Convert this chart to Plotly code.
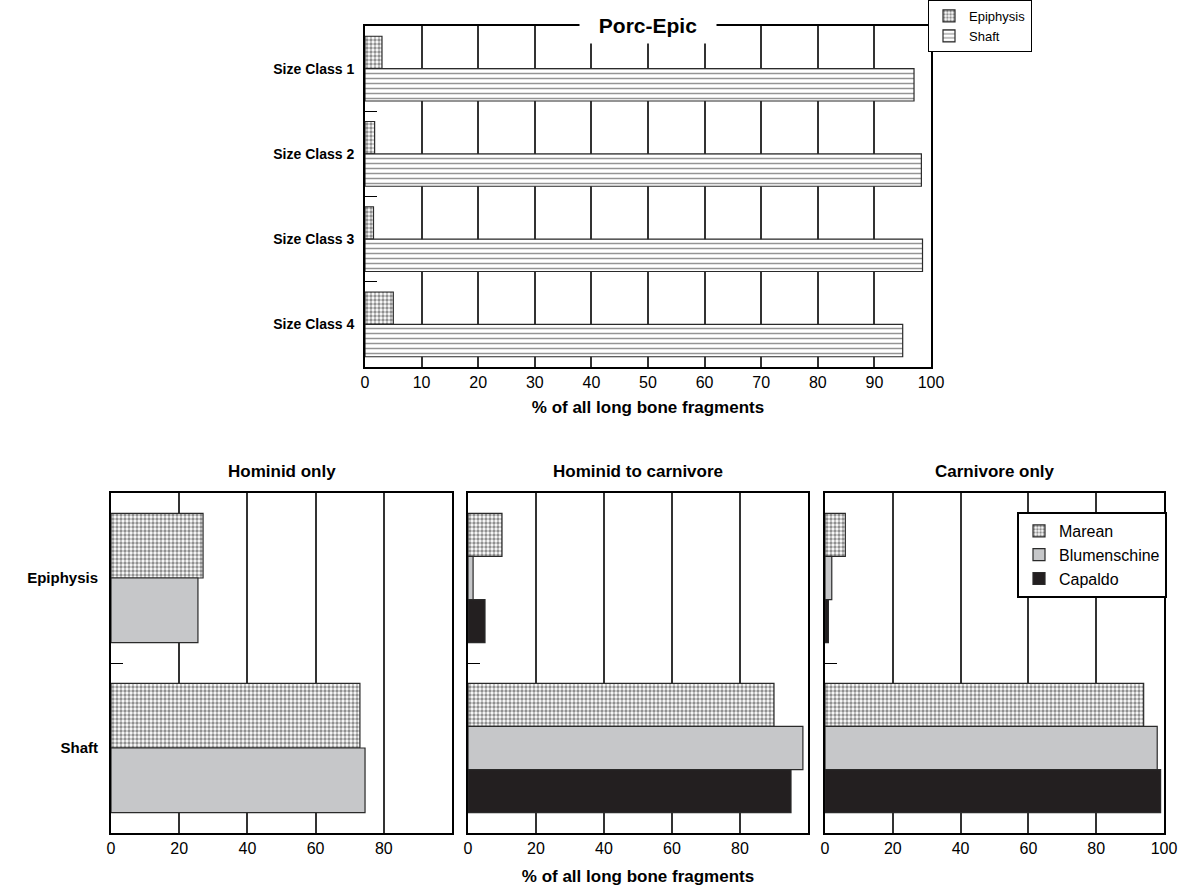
import plotly.graph_objects as go

# --- Porc-Epic: long bone fragment composition by size class ---
size_classes = ["Size Class 1", "Size Class 2", "Size Class 3", "Size Class 4"]
porc_epiphysis = [3.0, 1.7, 1.5, 5.0]
porc_shaft = [97.0, 98.3, 98.5, 95.0]

# --- Experimental samples ---
portions = ["Epiphysis", "Shaft"]
hominid_only_marean = [27.0, 73.0]
hominid_only_blumenschine = [25.5, 74.5]
hom_carn_marean = [10.0, 90.0]
hom_carn_blumenschine = [1.5, 98.5]
hom_carn_capaldo = [5.0, 95.0]
carn_only_marean = [6.0, 94.0]
carn_only_blumenschine = [2.0, 98.0]
carn_only_capaldo = [1.0, 99.0]

panel_titles = ["Hominid only", "Hominid to carnivore", "Carnivore only"]

W, H = 1186, 889
FONT = "Arial, Liberation Sans, sans-serif"
EDGE = "#2a2a2a"
GRID = "#333333"


def px_x(p):
    return p / W


def px_y(p):
    return 1 - p / H


stipple = dict(shape=".", size=4, solidity=0.55, fgcolor="#222222", bgcolor="white")
hlines = dict(shape="-", size=5, solidity=0.3, fgcolor="#2a2a2a", bgcolor="white")
LIGHT_GREY = "#c6c7c9"
DARK = "#231f20"

fig = go.Figure()

# top chart
fig.add_trace(go.Bar(
    y=size_classes, x=porc_epiphysis, orientation="h", name="Epiphysis",
    marker=dict(color="white", pattern=stipple, line=dict(color=EDGE, width=1.2)),
    xaxis="x", yaxis="y", legend="legend",
))
fig.add_trace(go.Bar(
    y=size_classes, x=porc_shaft, orientation="h", name="Shaft",
    marker=dict(color="white", pattern=hlines, line=dict(color=EDGE, width=1.2)),
    xaxis="x", yaxis="y", legend="legend",
))

marean_style = dict(color="white", pattern=stipple, line=dict(color=EDGE, width=1.2))
blum_style = dict(color=LIGHT_GREY, line=dict(color=EDGE, width=1.2))
cap_style = dict(color=DARK, line=dict(color=EDGE, width=1.2))

panels = [
    ("x2", "y2", [hominid_only_marean, hominid_only_blumenschine, None]),
    ("x3", "y3", [hom_carn_marean, hom_carn_blumenschine, hom_carn_capaldo]),
    ("x4", "y4", [carn_only_marean, carn_only_blumenschine, carn_only_capaldo]),
]
names = ["Marean", "Blumenschine", "Capaldo"]
styles = [marean_style, blum_style, cap_style]
for pi, (xa, ya, series) in enumerate(panels):
    for si, vals in enumerate(series):
        if vals is None:
            continue
        fig.add_trace(go.Bar(
            y=portions, x=vals, orientation="h", name=names[si],
            marker=styles[si], xaxis=xa, yaxis=ya, legend="legend2",
            showlegend=(pi == 2),
        ))

axis_common = dict(
    showline=True, mirror=True, linecolor="black", linewidth=2,
    zeroline=False, tickfont=dict(family=FONT, size=16, color="black"),
)

top_dom_x = [px_x(365), px_x(931)]
top_dom_y = [px_y(367), px_y(26)]
bot_dom_y = [px_y(833), px_y(493)]
bot_doms_x = [[px_x(111), px_x(452)], [px_x(468), px_x(808)], [px_x(825), px_x(1164)]]

axis_title_font = dict(family=FONT, size=17, weight="bold", color="black")

layout = dict(
    width=W, height=H, margin=dict(l=0, r=0, t=0, b=0, autoexpand=False),
    paper_bgcolor="white", plot_bgcolor="white",
    barmode="group", bargap=0.24, bargroupgap=0,
    font=dict(family=FONT, color="black"),
    xaxis=dict(
        **axis_common, domain=top_dom_x, anchor="y", range=[0, 100],
        tickvals=list(range(0, 101, 10)), showgrid=True, gridcolor=GRID, gridwidth=1.5,
        ticks="", title=dict(text="% of all long bone fragments",
                             font=axis_title_font, standoff=11),
    ),
    yaxis=dict(
        **axis_common, domain=top_dom_y, anchor="x", type="category",
        autorange="reversed", showgrid=False, ticks="inside", ticklen=12,
        tickson="boundaries", tickcolor="black", tickwidth=1,
        ticklabelstandoff=6,
    ),
)
layout["yaxis"]["tickfont"] = dict(family=FONT, size=14, weight="bold", color="black")

for i, dom in enumerate(bot_doms_x):
    n = i + 2
    show100 = (i == 2)
    layout[f"xaxis{n}"] = dict(
        **axis_common, domain=dom, anchor=f"y{n}", range=[0, 100],
        tickvals=[0, 20, 40, 60, 80, 100] if show100 else [0, 20, 40, 60, 80],
        showgrid=True, gridcolor=GRID, gridwidth=1.5, ticks="",
    )
    layout[f"yaxis{n}"] = dict(
        **axis_common, domain=bot_dom_y, anchor=f"x{n}", type="category",
        autorange="reversed", showgrid=False, ticks="inside", ticklen=12,
        tickson="boundaries", tickcolor="black", tickwidth=1,
        showticklabels=(i == 0), ticklabelstandoff=8,
    )
    layout[f"yaxis{n}"]["tickfont"] = dict(family=FONT, size=15, weight="bold", color="black")

layout["xaxis3"]["title"] = dict(text="% of all long bone fragments",
                                 font=axis_title_font, standoff=14)

layout["legend"] = dict(
    x=px_x(928), y=1, xanchor="left", yanchor="top",
    bgcolor="white", bordercolor="black", borderwidth=1,
    font=dict(family=FONT, size=13), tracegroupgap=0, itemwidth=30,
)
layout["legend2"] = dict(
    x=px_x(1017), y=px_y(512), xanchor="left", yanchor="top",
    bgcolor="white", bordercolor="black", borderwidth=2,
    font=dict(family=FONT, size=16), tracegroupgap=0, itemwidth=30,
)

annotations = [
    dict(text="<b>Porc-Epic</b>", x=(top_dom_x[0] + top_dom_x[1]) / 2, y=px_y(25),
         xref="paper", yref="paper", xanchor="center", yanchor="middle",
         showarrow=False, bgcolor="white", width=134, height=34,
         font=dict(family=FONT, size=21)),
]
for t, dom in zip(panel_titles, bot_doms_x):
    annotations.append(dict(
        text=f"<b>{t}</b>", x=(dom[0] + dom[1]) / 2, y=px_y(471), xref="paper",
        yref="paper", xanchor="center", yanchor="middle", showarrow=False,
        font=dict(family=FONT, size=17),
    ))
layout["annotations"] = annotations

fig.update_layout(**layout)
fig.write_html("out.html")
